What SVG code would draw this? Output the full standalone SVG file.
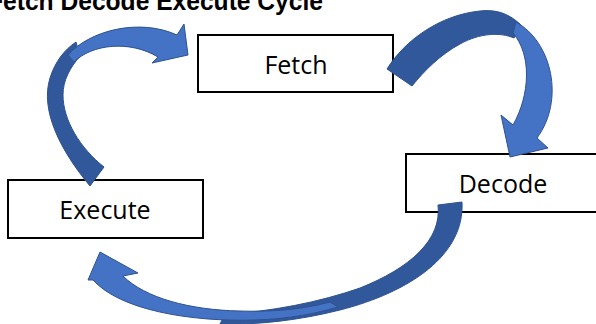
<svg xmlns="http://www.w3.org/2000/svg" width="596" height="324" viewBox="0 0 596 324">
<style>
.box{fill:#fff;stroke:#000;stroke-width:2}
.lbl{font-family:"Open Sans","Liberation Sans",sans-serif;font-size:25px;fill:#000;text-anchor:middle}
.title{font-family:"Liberation Sans",Arial,sans-serif;font-size:25px;font-weight:bold;fill:#000}
.dark{fill:#31589B;stroke:#2F528F;stroke-width:1;stroke-linejoin:round}
.light{fill:#4472C4;stroke:#2F528F;stroke-width:1;stroke-linejoin:round}
</style>
<rect width="596" height="324" fill="#fff"/>
<text class="title" x="-12" y="10" textLength="335" lengthAdjust="spacingAndGlyphs">Fetch Decode Execute Cycle</text>
<g id="fetch">
<rect class="box" x="198" y="35" width="195" height="57"/>
<text class="lbl" x="296" y="74">Fetch</text>
</g>
<g id="decode">
<rect class="box" x="406" y="154" width="196" height="58"/>
<text class="lbl" x="503" y="193">Decode</text>
</g>
<g id="execute">
<rect class="box" x="8" y="180" width="195" height="58"/>
<text class="lbl" x="105" y="219">Execute</text>
</g>
<g id="connectors">
<g id="execute-to-fetch">
<path class="dark" d="M90,186 C60,150 40,110 50,78 C55,62 64,50 76,42 L80,56 C70,68 63,80 63,95 C63,120 80,148 104,167 Z"/>
<path class="light" d="M68,55 C90,30 140,18 177,35 L184,24 L188,55 L152,63 L158,57 C130,40 92,44 74,62 Z"/>
</g>
<g id="fetch-to-decode">
<path class="dark" d="M387,69 C405,40 440,15 480,11 C497,9 510,14 522,26 L514,38 C500,32 480,33 460,44 C440,55 425,70 412,86 Z"/>
<path class="light" d="M516,22 C552,42 565,100 537,138 L548,148 L510,157 L501,115 L513,125 C530,95 532,55 513,33 Z"/>
</g>
<g id="decode-to-execute">
<path class="dark" d="M462,202 C465,255 410,292 340,310 C300,320 260,325 220,324 L225,314 C270,312 320,302 360,288 C410,268 442,240 438,205 Z"/>
<path class="light" d="M93,280 C120,310 190,322 255,320 C290,319 318,313 338,307 L330,302 C300,310 270,312 240,311 C190,310 145,298 123,276 L138,273 L100,252 L88,280 Z"/>
</g>
</g>
</svg>
